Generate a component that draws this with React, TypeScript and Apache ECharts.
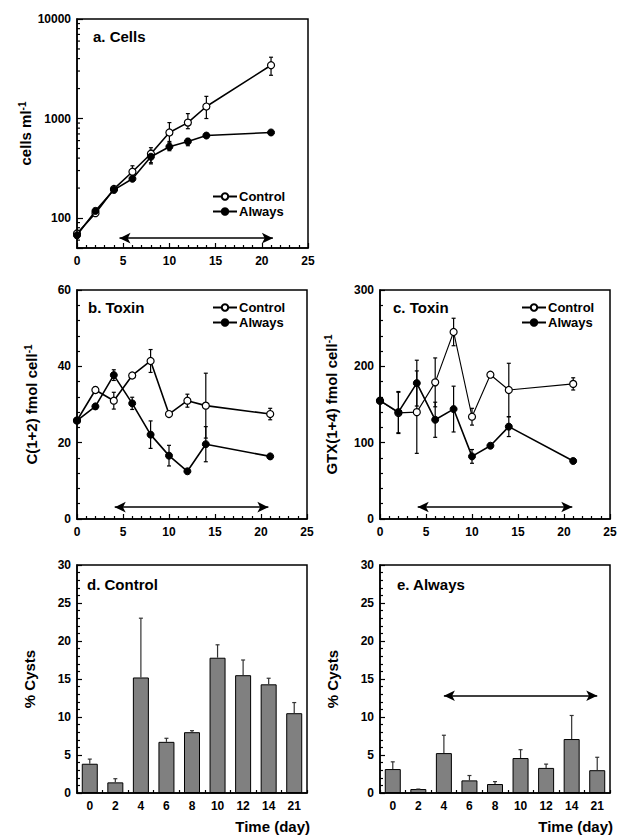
import React, { useEffect, useRef } from 'react';
import * as echarts from 'echarts';

const days = [0, 2, 4, 6, 8, 10, 12, 14, 21];
const dayLabels = ['0', '2', '4', '6', '8', '10', '12', '14', '21'];

// a. Cells (cells ml-1)
const cellsControl = [70, 112, 196, 292, 443, 724, 910, 1320, 3430];
const cellsControlLo = [66, 106, 186, 250, 350, 570, 790, 1000, 2720];
const cellsControlHi = [75, 118, 206, 335, 509, 910, 1120, 1670, 4130];
const cellsAlways = [67, 118, 192, 248, 413, 521, 588, 674, 724];
const cellsAlwaysLo = [63, 113, 180, 238, 360, 475, 533, 650, 700];
const cellsAlwaysHi = [72, 123, 205, 260, 480, 588, 630, 700, 750];

// b. Toxin C(1+2)
const c12Control = [25.8, 33.8, 31.0, 37.6, 41.4, 27.5, 31.0, 29.7, 27.5];
const c12ControlErr = [0.5, 0.8, 2.2, 0.6, 3.0, 0.6, 1.7, 8.5, 1.5];
const c12Always = [25.8, 29.5, 37.7, 30.3, 22.1, 16.6, 12.5, 19.6, 16.4];
const c12AlwaysErr = [0.5, 0.6, 1.4, 1.6, 3.6, 2.7, 0.5, 4.6, 0.5];

// c. Toxin GTX(1+4)
const gtxControl = [155, 139, 140, 179, 245, 134, 189, 169, 177];
const gtxControlErr = [3, 27, 54, 32, 18, 11, 3, 35, 8];
const gtxAlways = [155, 140, 178, 130, 144, 82, 96, 121, 76];
const gtxAlwaysErr = [3, 27, 30, 23, 30, 9, 3, 13, 3];

// d, e. % Cysts
const cystControl = [3.85, 1.4, 15.2, 6.73, 8.0, 17.8, 15.5, 14.3, 10.5];
const cystControlTop = [4.46, 1.88, 23.0, 7.2, 8.2, 19.5, 17.5, 15.1, 11.9];
const cystAlways = [3.15, 0.52, 5.25, 1.66, 1.18, 4.6, 3.3, 7.1, 3.0];
const cystAlwaysTop = [4.1, 0.52, 7.6, 2.3, 1.5, 5.7, 3.8, 10.2, 4.7];

const logMajor = [100, 1000, 10000];
const logMinor = [60, 70, 80, 90, 200, 300, 400, 500, 600, 700, 800, 900, 2000, 3000, 4000, 5000, 6000, 7000, 8000, 9000];

const FONT = "'Liberation Sans', Arial, Helvetica, sans-serif";

// panel rectangles [left, top, width, height]
const panelRects = [
  [77, 19, 231, 229],
  [77, 290, 230, 229],
  [380, 290, 230, 229],
  [77, 565, 230, 228],
  [380, 565, 230, 228],
];

function errRender(capHalf: number, upOnly: boolean, color: string) {
  return (params: any, api: any) => {
    const x = api.value(0);
    const lo = api.value(1);
    const hi = api.value(2);
    const pLo = api.coord([x, lo]);
    const pHi = api.coord([x, hi]);
    const st = { stroke: color, lineWidth: 1.2 };
    const children: any[] = [
      { type: 'line', shape: { x1: pHi[0], y1: pHi[1], x2: pLo[0], y2: pLo[1] }, style: st },
      { type: 'line', shape: { x1: pHi[0] - capHalf, y1: pHi[1], x2: pHi[0] + capHalf, y2: pHi[1] }, style: st },
    ];
    if (!upOnly) {
      children.push({ type: 'line', shape: { x1: pLo[0] - capHalf, y1: pLo[1], x2: pLo[0] + capHalf, y2: pLo[1] }, style: st });
    }
    return { type: 'group', children };
  };
}

// minor ticks of the log axis (drawn inward from the y axis)
function minorTickRender(params: any, api: any) {
  const p = api.coord([0, api.value(1)]);
  return {
    type: 'line',
    shape: { x1: p[0], y1: p[1], x2: p[0] + 3, y2: p[1] },
    style: { stroke: '#000', lineWidth: 1.2 },
  };
}

const axisLine = { show: true, lineStyle: { color: '#000', width: 1.5 } };
const tickLine = { color: '#000', width: 1.2 };
const labelStyle = { color: '#000', fontWeight: 'bold', fontSize: 12, fontFamily: FONT };
const supRich = {
  sup: { fontSize: 10, fontWeight: 'bold', fontFamily: FONT, color: '#000', verticalAlign: 'bottom', padding: [0, 0, 7, 0] },
};
const nameStyle = { color: '#000', fontWeight: 'bold', fontSize: 15, fontFamily: FONT, rich: supRich };

function timeXAxis(gridIndex: number) {
  return {
    gridIndex,
    type: 'value',
    min: 0,
    max: 25,
    interval: 5,
    axisLine,
    axisTick: { show: true, inside: true, length: 5, lineStyle: tickLine },
    minorTick: { show: true, splitNumber: 5, length: 3, lineStyle: tickLine },
    axisLabel: { ...labelStyle, margin: 7 },
    splitLine: { show: false },
  };
}

function valueYAxis(gridIndex: number, max: number, interval: number, name: string, nameGap: number) {
  return {
    gridIndex,
    type: 'value',
    min: 0,
    max,
    interval,
    name,
    nameLocation: 'middle',
    nameGap,
    nameTextStyle: nameStyle,
    axisLine,
    axisTick: { show: true, inside: true, length: 5, lineStyle: tickLine },
    minorTick: { show: true, splitNumber: 5, length: 3, lineStyle: tickLine },
    axisLabel: { ...labelStyle, margin: 6 },
    splitLine: { show: false },
  };
}

function catXAxis(gridIndex: number) {
  return {
    gridIndex,
    type: 'category',
    data: dayLabels,
    boundaryGap: true,
    axisLine,
    axisTick: { show: true, inside: true, length: 3, lineStyle: tickLine },
    axisLabel: { ...labelStyle, margin: 7 },
    splitLine: { show: false },
  };
}

const controlStyle = {
  symbol: 'circle',
  symbolSize: 7,
  itemStyle: { color: '#fff', borderColor: '#000', borderWidth: 1.2 },
  lineStyle: { color: '#000', width: 1.6 },
};
const alwaysStyle = {
  symbol: 'circle',
  symbolSize: 7,
  itemStyle: { color: '#000', borderColor: '#000', borderWidth: 1 },
  lineStyle: { color: '#000', width: 1.6 },
};

function arrowLine(x1: any, x2: any, y: number) {
  return {
    silent: true,
    symbol: ['arrow', 'arrow'],
    symbolSize: [8, 11],
    lineStyle: { color: '#000', width: 1.6, type: 'solid' },
    itemStyle: { color: '#000' },
    label: { show: false },
    emphasis: { disabled: true },
    data: [[{ coord: [x1, y] }, { coord: [x2, y] }]],
  };
}

function legendAt(left: number, top: number) {
  return {
    orient: 'vertical',
    left,
    top,
    padding: 0,
    itemWidth: 24,
    itemHeight: 8,
    itemGap: 2,
    selectedMode: false,
    data: ['Control', 'Always'],
    textStyle: { color: '#000', fontWeight: 'bold', fontSize: 13, fontFamily: FONT, padding: [0, 0, 0, -3] },
  };
}

function titleAt(text: string, left: number, top: number, fontSize = 15) {
  return { text, left, top, padding: 0, textStyle: { color: '#000', fontWeight: 'bold', fontSize, fontFamily: FONT } };
}

function gridAt(r: number[]) {
  return { left: r[0], top: r[1], width: r[2], height: r[3], show: false };
}

const option: any = {
  animation: false,
  backgroundColor: '#fff',
  title: [
    titleAt('a. Cells', 93, 29),
    titleAt('b. Toxin', 88, 300),
    titleAt('c. Toxin', 393, 300),
    titleAt('d. Control', 87, 577),
    titleAt('e. Always', 397, 577),
    { text: 'Time (day)', right: 316, top: 819, padding: 0, textStyle: { color: '#000', fontWeight: 'bold', fontSize: 15, fontFamily: FONT } },
    { text: 'Time (day)', right: 13, top: 819, padding: 0, textStyle: { color: '#000', fontWeight: 'bold', fontSize: 15, fontFamily: FONT } },
  ],
  graphic: panelRects.map((r) => ({
    type: 'rect',
    silent: true,
    z: 10,
    shape: { x: r[0], y: r[1], width: r[2], height: r[3] },
    style: { fill: 'none', stroke: '#000', lineWidth: 1.5 },
  })),
  legend: [legendAt(212, 190), legendAt(212, 301), legendAt(521, 301)],
  grid: panelRects.map((r) => gridAt(r)),
  xAxis: [timeXAxis(0), timeXAxis(1), timeXAxis(2), catXAxis(3), catXAxis(4)],
  yAxis: [
    {
      gridIndex: 0,
      type: 'log',
      logBase: 10,
      min: 50,
      max: 10000,
      name: 'cells ml{sup|-1}',
      nameLocation: 'middle',
      nameGap: 43,
      nameTextStyle: nameStyle,
      axisLine,
      axisTick: { show: true, inside: true, length: 6, lineStyle: tickLine },
      axisLabel: {
        ...labelStyle,
        margin: 6,
        formatter: (v: number) => (logMajor.indexOf(Math.round(v)) >= 0 ? String(Math.round(v)) : ''),
      },
      splitLine: { show: false },
    },
    valueYAxis(1, 60, 20, 'C(1+2) fmol cell{sup|-1}', 37),
    valueYAxis(2, 300, 100, 'GTX(1+4) fmol cell{sup|-1}', 40),
    valueYAxis(3, 30, 5, '% Cysts', 40),
    valueYAxis(4, 30, 5, '% Cysts', 40),
  ],
  series: [
    // a
    {
      type: 'custom', xAxisIndex: 0, yAxisIndex: 0, z: 1, silent: true,
      renderItem: minorTickRender, encode: { x: 0, y: 1 },
      data: logMinor.map((v) => [0, v]),
    },
    {
      type: 'custom', xAxisIndex: 0, yAxisIndex: 0, z: 1, silent: true,
      renderItem: errRender(2, false, '#000'), encode: { x: 0, y: [1, 2] },
      data: days.map((d, i) => [d, cellsControlLo[i], cellsControlHi[i]]),
    },
    {
      type: 'custom', xAxisIndex: 0, yAxisIndex: 0, z: 1, silent: true,
      renderItem: errRender(2, false, '#000'), encode: { x: 0, y: [1, 2] },
      data: days.map((d, i) => [d, cellsAlwaysLo[i], cellsAlwaysHi[i]]),
    },
    {
      name: 'Control', type: 'line', xAxisIndex: 0, yAxisIndex: 0, z: 3, ...controlStyle,
      data: days.map((d, i) => [d, cellsControl[i]]),
    },
    {
      name: 'Always', type: 'line', xAxisIndex: 0, yAxisIndex: 0, z: 4, ...alwaysStyle,
      data: days.map((d, i) => [d, cellsAlways[i]]),
      markLine: arrowLine(4.6, 21.2, 62.8),
    },
    // b
    {
      type: 'custom', xAxisIndex: 1, yAxisIndex: 1, z: 1, silent: true,
      renderItem: errRender(2, false, '#000'), encode: { x: 0, y: [1, 2] },
      data: days.map((d, i) => [d, c12Control[i] - c12ControlErr[i], c12Control[i] + c12ControlErr[i]]),
    },
    {
      type: 'custom', xAxisIndex: 1, yAxisIndex: 1, z: 1, silent: true,
      renderItem: errRender(2, false, '#000'), encode: { x: 0, y: [1, 2] },
      data: days.map((d, i) => [d, c12Always[i] - c12AlwaysErr[i], c12Always[i] + c12AlwaysErr[i]]),
    },
    {
      name: 'Control', type: 'line', xAxisIndex: 1, yAxisIndex: 1, z: 3, ...controlStyle,
      data: days.map((d, i) => [d, c12Control[i]]),
    },
    {
      name: 'Always', type: 'line', xAxisIndex: 1, yAxisIndex: 1, z: 4, ...alwaysStyle,
      data: days.map((d, i) => [d, c12Always[i]]),
      markLine: arrowLine(4.1, 20.8, 3.1),
    },
    // c
    {
      type: 'custom', xAxisIndex: 2, yAxisIndex: 2, z: 1, silent: true,
      renderItem: errRender(2, false, '#000'), encode: { x: 0, y: [1, 2] },
      data: days.map((d, i) => [d, gtxControl[i] - gtxControlErr[i], gtxControl[i] + gtxControlErr[i]]),
    },
    {
      type: 'custom', xAxisIndex: 2, yAxisIndex: 2, z: 1, silent: true,
      renderItem: errRender(2, false, '#000'), encode: { x: 0, y: [1, 2] },
      data: days.map((d, i) => [d, gtxAlways[i] - gtxAlwaysErr[i], gtxAlways[i] + gtxAlwaysErr[i]]),
    },
    {
      name: 'Control', type: 'line', xAxisIndex: 2, yAxisIndex: 2, z: 3, ...controlStyle,
      lineStyle: { color: '#000', width: 1.1 },
      data: days.map((d, i) => [d, gtxControl[i]]),
    },
    {
      name: 'Always', type: 'line', xAxisIndex: 2, yAxisIndex: 2, z: 4, ...alwaysStyle,
      data: days.map((d, i) => [d, gtxAlways[i]]),
      markLine: arrowLine(4.1, 20.9, 15.7),
    },
    // d
    {
      name: 'Control cysts', type: 'bar', xAxisIndex: 3, yAxisIndex: 3, z: 2, barWidth: 16,
      itemStyle: { color: '#808080', borderColor: '#000', borderWidth: 1 },
      data: cystControl,
    },
    {
      type: 'custom', xAxisIndex: 3, yAxisIndex: 3, z: 3, silent: true,
      renderItem: errRender(2, true, '#333'), encode: { x: 0, y: [1, 2] },
      data: days.map((d, i) => [i, cystControl[i], cystControlTop[i]]),
    },
    // e
    {
      name: 'Always cysts', type: 'bar', xAxisIndex: 4, yAxisIndex: 4, z: 2, barWidth: 16,
      itemStyle: { color: '#808080', borderColor: '#000', borderWidth: 1 },
      data: cystAlways,
      markLine: arrowLine(2, 8, 12.8),
    },
    {
      type: 'custom', xAxisIndex: 4, yAxisIndex: 4, z: 3, silent: true,
      renderItem: errRender(2, true, '#333'), encode: { x: 0, y: [1, 2] },
      data: days.map((d, i) => [i, cystAlways[i], cystAlwaysTop[i]]),
    },
  ],
};

export default function App() {
  const ref = useRef<HTMLDivElement>(null);
  useEffect(() => {
    const chart = echarts.init(ref.current as HTMLDivElement, null, { renderer: 'svg' });
    chart.setOption(option);
    return () => {
      chart.dispose();
    };
  }, []);
  return (
    <div
      ref={ref}
      style={{ position: 'absolute', left: 0, top: 0, width: 626, height: 837, background: '#fff' }}
    />
  );
}
